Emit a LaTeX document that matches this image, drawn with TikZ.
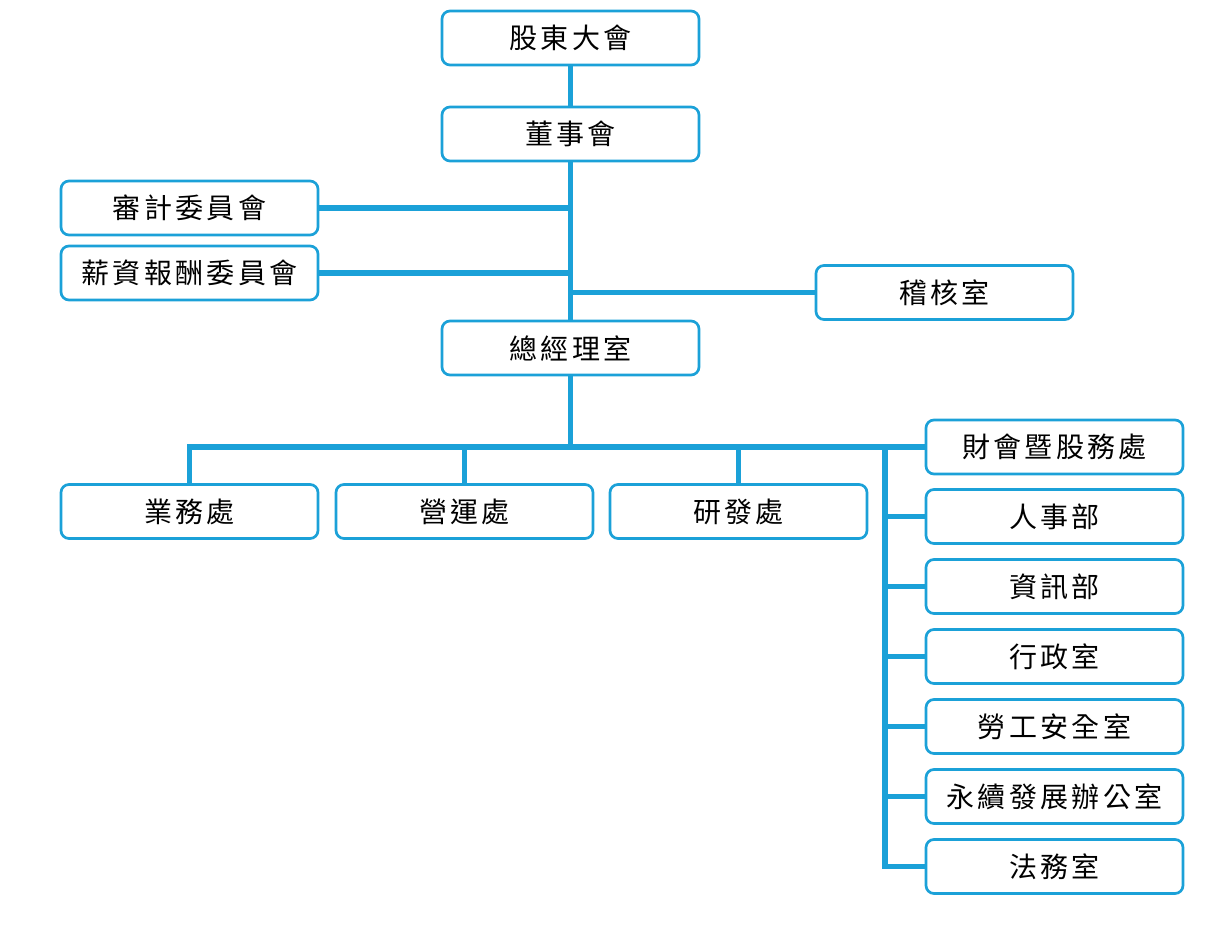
\documentclass[tikz,border=0pt]{standalone}
\usepackage{fontspec}
\newfontfamily\cjk[LetterSpace=12]{Noto Sans CJK TC}
\definecolor{orgblue}{HTML}{1BA1D8}
\tikzset{
  box/.style={draw=orgblue, line width=2pt, rounded corners=6pt, fill=white,
    minimum width=192.75pt, minimum height=40.5pt, inner sep=0pt,
    font=\cjk\fontsize{21}{23}\selectfont, text=black},
  link/.style={draw=orgblue, line width=3.8pt, line join=miter}
}
\begin{document}
\begin{tikzpicture}[x=0.75pt,y=-0.75pt]
\useasboundingbox (0,0) rectangle (1208,948);
\node[box] (gd) at (570.5,38) {股東大會};
\node[box] (dsh) at (570.5,134) {董事會};
\node[box] (sj) at (189.5,208) {審計委員會};
\node[box] (xz) at (189.5,273) {薪資報酬委員會};
\node[box] (jh) at (944.5,292.5) {稽核室};
\node[box] (zjl) at (570.5,348) {總經理室};
\node[box] (yw) at (189.5,511.5) {業務處};
\node[box] (yy) at (464.5,511.5) {營運處};
\node[box] (yf) at (738.5,511.5) {研發處};
\node[box] (ck) at (1054.5,447) {財會暨股務處};
\node[box] (rs) at (1054.5,516.5) {人事部};
\node[box] (zx) at (1054.5,586.5) {資訊部};
\node[box] (xzs) at (1054.5,656.5) {行政室};
\node[box] (lg) at (1054.5,726.5) {勞工安全室};
\node[box] (yx) at (1054.5,796.5) {永續發展辦公室};
\node[box] (fw) at (1054.5,866.5) {法務室};
\coordinate (rv) at (885,0);
\draw[link] (gd.south) -- (dsh.north);
\draw[link] (dsh.south) -- (zjl.north);
\draw[link] (sj.east) -- (sj.east -| dsh.south);
\draw[link] (xz.east) -- (xz.east -| dsh.south);
\draw[link] (jh.west) -- (jh.west -| dsh.south);
\draw[link] (zjl.south) -- (zjl.south |- ck.west);
\draw[link] (yw.north) -- (yw.north |- ck.west) -- (ck.west);
\draw[link] (yy.north) -- (yy.north |- ck.west);
\draw[link] (yf.north) -- (yf.north |- ck.west);
\draw[link] (rv |- ck.west) -- (rv |- fw.west) -- (fw.west);
\draw[link] (rv |- rs.west) -- (rs.west);
\draw[link] (rv |- zx.west) -- (zx.west);
\draw[link] (rv |- xzs.west) -- (xzs.west);
\draw[link] (rv |- lg.west) -- (lg.west);
\draw[link] (rv |- yx.west) -- (yx.west);
\end{tikzpicture}
\end{document}
